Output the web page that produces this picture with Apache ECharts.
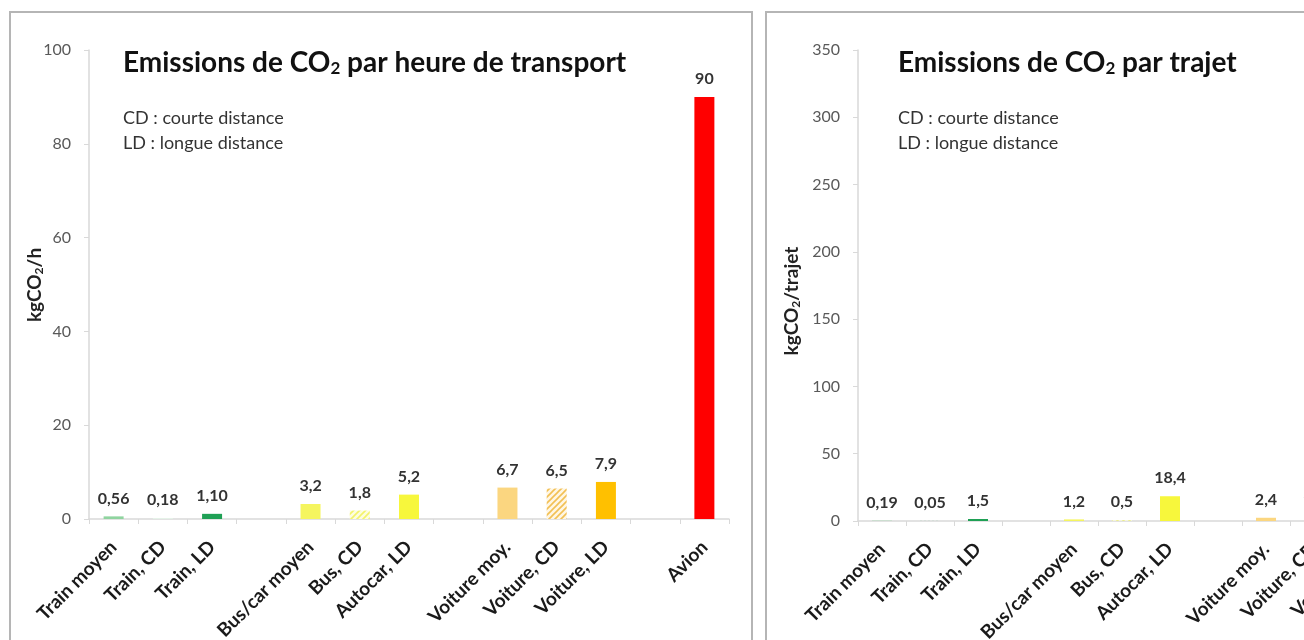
<!DOCTYPE html>
<html>
<head>
<meta charset="utf-8">
<script src="https://cdn.jsdelivr.net/npm/echarts@6/dist/echarts.min.js"></script>
<style>
  html, body { margin: 0; padding: 0; background: #fff; overflow: hidden; width: 1304px; height: 640px; }
  #chart { position: absolute; left: 0; top: 0; width: 1600px; height: 760px; }
</style>
</head>
<body>
<div id="chart"></div>
<script>
// ---- data ----
const categories = ['Train moyen', 'Train, CD', 'Train, LD', '', 'Bus/car moyen', 'Bus, CD', 'Autocar, LD', '', 'Voiture moy.', 'Voiture, CD', 'Voiture, LD', '', 'Avion'];
const perHourValues = [0.56, 0.18, 1.10, null, 3.2, 1.8, 5.2, null, 6.7, 6.5, 7.9, null, 90];
const perHourDecimals = [2, 2, 2, 0, 1, 1, 1, 0, 1, 1, 1, 0, 0];
// last three trip values lie outside the visible picture: rough estimates
const perTripValues = [0.19, 0.05, 1.5, null, 1.2, 0.5, 18.4, null, 2.4, 1.7, 40, null, 300];
const perTripDecimals = [2, 2, 1, 0, 1, 1, 1, 0, 1, 1, 1, 0, 0];
const hourAxis = { min: 0, max: 100, interval: 20 };
const tripAxis = { min: 0, max: 350, interval: 50 };
const titleHour = ['Emissions de CO', '2', ' par heure de transport'];
const titleTrip = ['Emissions de CO', '2', ' par trajet'];
const noteLines = ['CD : courte distance', 'LD : longue distance'];
const nameHour = ['kgCO', '2', '/h'];
const nameTrip = ['kgCO', '2', '/trajet'];

// ---- styles ----
function hatch(stripe, bg) {
  const c = document.createElement('canvas');
  c.width = 6; c.height = 6;
  const g = c.getContext('2d');
  g.fillStyle = bg; g.fillRect(0, 0, 6, 6);
  g.strokeStyle = stripe; g.lineWidth = 1.6;
  g.beginPath();
  g.moveTo(-1, 7); g.lineTo(7, -1);
  g.moveTo(-4, 4); g.lineTo(4, -4);
  g.moveTo(2, 10); g.lineTo(10, 2);
  g.stroke();
  return { image: c, repeat: 'repeat' };
}
function dots(col, bg) {
  const c = document.createElement('canvas');
  c.width = 4; c.height = 4;
  const g = c.getContext('2d');
  g.fillStyle = bg; g.fillRect(0, 0, 4, 4);
  g.fillStyle = col; g.fillRect(0, 0, 2, 2);
  return { image: c, repeat: 'repeat' };
}
const barColors = [
  '#8fd49f', dots('#3cb46a', '#e6f6ea'), '#1fa055', null,
  '#f5f55f', hatch('#f3f36a', '#fdfde0'), '#f7f73c', null,
  '#fbd680', hatch('#f2c054', '#fff6e4'), '#ffc000', null,
  '#ff0000'
];
const FONT = 'Lato, "Open Sans", sans-serif';
const axisGrey = '#d9d9d9';

function buildData(vals) {
  return vals.map((v, i) => ({ value: v, itemStyle: { color: barColors[i] || '#ccc' } }));
}
function fmt(decs) {
  return p => (p.value == null ? '' : Number(p.value).toFixed(decs[p.dataIndex]).replace('.', ','));
}
function richTitle(parts) { return parts[0] + '{s|' + parts[1] + '}' + parts[2]; }

const grids = [
  { left: 89, top: 50, width: 640, height: 469 },
  { left: 858, top: 50, width: 624, height: 471 }
];

function xAxis(gi) {
  return {
    type: 'category', gridIndex: gi, data: categories,
    axisLine: { lineStyle: { color: axisGrey, width: 1.5 } },
    axisTick: { show: true, length: 5, lineStyle: { color: axisGrey } },
    axisLabel: { interval: 0, rotate: 45, margin: 25, fontFamily: FONT, fontWeight: 'bold', fontSize: 19, color: '#1a1a1a' }
  };
}
function yAxis(gi, ax) {
  return {
    type: 'value', gridIndex: gi, min: ax.min, max: ax.max, interval: ax.interval,
    axisLine: { show: true, lineStyle: { color: axisGrey, width: 1.5 } },
    axisTick: { show: true, length: 5, lineStyle: { color: axisGrey } },
    splitLine: { show: false },
    axisLabel: { margin: 18, fontFamily: FONT, fontSize: 16, color: '#595959' }
  };
}
function series(gi, vals, decs) {
  return {
    type: 'bar', xAxisIndex: gi, yAxisIndex: gi, barWidth: 20,
    data: buildData(vals),
    label: { show: true, position: 'top', distance: 10, formatter: fmt(decs), fontFamily: FONT, fontWeight: 'bold', fontSize: 16, color: '#333' }
  };
}

const titleRich = { s: { fontFamily: FONT, fontWeight: 'bold', fontSize: 17, fill: '#111', padding: [12, 0, 0, 0] } };
const nameRich = { s: { fontFamily: FONT, fontWeight: 'bold', fontSize: 12, fill: '#222', padding: [8, 0, 0, 0] } };

function panelGraphics(x0, titleParts, nameParts, nameX, nameY) {
  return [
    { type: 'text', x: x0, y: 63, style: { text: richTitle(titleParts), font: 'bold 28px ' + FONT, fill: '#111', verticalAlign: 'middle', rich: titleRich } },
    { type: 'text', x: x0, y: 118, style: { text: noteLines[0], font: '18px ' + FONT, fill: '#333', verticalAlign: 'middle' } },
    { type: 'text', x: x0, y: 143, style: { text: noteLines[1], font: '18px ' + FONT, fill: '#333', verticalAlign: 'middle' } },
    { type: 'text', x: nameX, y: nameY, rotation: Math.PI / 2, style: { text: richTitle(nameParts), font: 'bold 19px ' + FONT, fill: '#222', align: 'center', verticalAlign: 'middle', rich: nameRich } }
  ];
}

const chart = echarts.init(document.getElementById('chart'), null, { renderer: 'canvas' });
chart.setOption({
  animation: false,
  backgroundColor: '#fff',
  grid: grids,
  xAxis: [xAxis(0), xAxis(1)],
  yAxis: [yAxis(0, hourAxis), yAxis(1, tripAxis)],
  series: [series(0, perHourValues, perHourDecimals), series(1, perTripValues, perTripDecimals)],
  graphic: [
    { type: 'rect', shape: { x: 10, y: 12, width: 742, height: 800 }, style: { fill: 'none', stroke: '#b5b5b5', lineWidth: 2 }, z: 0 },
    { type: 'rect', shape: { x: 766, y: 12, width: 900, height: 800 }, style: { fill: 'none', stroke: '#b5b5b5', lineWidth: 2 }, z: 0 }
  ].concat(panelGraphics(123, titleHour, nameHour, 35, 285))
   .concat(panelGraphics(898, titleTrip, nameTrip, 792, 301))
});
</script>
</body>
</html>
